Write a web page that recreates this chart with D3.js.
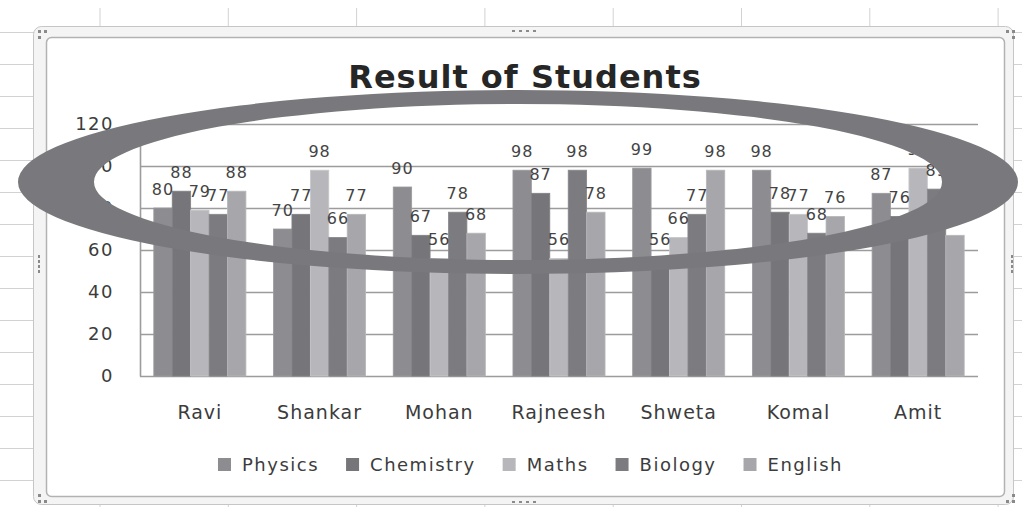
<!DOCTYPE html>
<html>
<head>
<meta charset="utf-8">
<title>Result of Students</title>
<script src="https://d3js.org/d3.v7.min.js"></script>
<style>
  body { margin: 0; background: #fff; font-family: "DejaVu Sans", sans-serif; }
  svg { display: block; }
  .y-axis .tick line { stroke: #9c9c9c; stroke-width: 1.6px; }
  .y-axis .domain { stroke: #9c9c9c; stroke-width: 1.6px; }
  .y-axis text { fill: #3c3c3c; font-size: 18px; letter-spacing: 1.5px; }
  .cat-label { fill: #3c3c3c; font-size: 19px; letter-spacing: 1px; }
  .bar-label { fill: #444; font-size: 16px; letter-spacing: 1px; }
  .legend text { fill: #3c3c3c; font-size: 18px; letter-spacing: 1.5px; }
</style>
</head>
<body>
<div id="chart"></div>
<script>
const students  = ["Ravi", "Shankar", "Mohan", "Rajneesh", "Shweta", "Komal", "Amit"];
const subjects  = ["Physics", "Chemistry", "Maths", "Biology", "English"];
const physics   = [80, 70, 90, 98, 99, 98, 87];
const chemistry = [88, 77, 67, 87, 56, 78, 76];
const maths     = [79, 98, 56, 56, 66, 77, 99];
const biology   = [77, 66, 78, 98, 77, 68, 89];
const english   = [88, 77, 68, 78, 98, 76, 67];
const yTicks    = [0, 20, 40, 60, 80, 100, 120];

const width = 1022, height = 507;
const colors = ["#8d8d91", "#76767a", "#b7b7bb", "#7c7c80", "#a7a7ab"];
const series = [physics, chemistry, maths, biology, english];

const svg = d3.select("#chart").append("svg")
  .attr("width", width)
  .attr("height", height);

// worksheet cells behind the chart object
const sheet = svg.append("g").attr("stroke", "#d2d2d2").attr("stroke-width", 1);
d3.range(32, height, 32).forEach(yy => {
  sheet.append("line").attr("x1", 0).attr("x2", width).attr("y1", yy + 0.5).attr("y2", yy + 0.5);
});
d3.range(0, 8).map(i => 100 + i * 128.3).forEach(xx => {
  sheet.append("line").attr("x1", xx).attr("x2", xx).attr("y1", 8).attr("y2", height);
});

// chart object frame (selected state)
svg.append("rect")
  .attr("x", 33.5).attr("y", 26.5).attr("width", 980).attr("height", 478)
  .attr("rx", 8).attr("fill", "#f4f4f4").attr("stroke", "#c6c6c6");
svg.append("rect")
  .attr("x", 46.5).attr("y", 37.5).attr("width", 958).attr("height", 459)
  .attr("rx", 5).attr("fill", "#fff").attr("stroke", "#b2b2b2").attr("stroke-width", 1.5);

const handles = svg.append("g").attr("fill", "#8a8a8a");
[[38, 30], [44, 30], [38, 36], [1006, 30], [1012, 30], [1012, 36],
 [38, 500], [44, 500], [38, 494], [1006, 500], [1012, 500], [1012, 494]]
  .forEach(([hx, hy]) => handles.append("rect").attr("x", hx).attr("y", hy).attr("width", 3).attr("height", 3));
[0, 1, 2, 3].forEach(i => {
  handles.append("rect").attr("x", 512 + i * 7).attr("y", 30).attr("width", 3).attr("height", 2);
  handles.append("rect").attr("x", 512 + i * 7).attr("y", 501).attr("width", 3).attr("height", 2);
  handles.append("rect").attr("x", 38).attr("y", 255 + i * 5).attr("width", 2).attr("height", 3);
  handles.append("rect").attr("x", 1011).attr("y", 255 + i * 5).attr("width", 2).attr("height", 3);
});

// plot area
const plot = { left: 140, right: 978, top: 124, bottom: 376 };

const x0 = d3.scaleBand()
  .domain(students)
  .range([plot.left, plot.right])
  .paddingInner(1.5 / 6.5)
  .paddingOuter(0.75 / 6.5);

const x1 = d3.scaleBand()
  .domain(subjects)
  .range([0, x0.bandwidth()]);

const y = d3.scaleLinear()
  .domain([0, 120])
  .range([plot.bottom, plot.top]);

const yAxis = svg.append("g")
  .attr("class", "y-axis")
  .attr("transform", `translate(${plot.left},0)`)
  .call(d3.axisLeft(y)
    .tickValues(yTicks)
    .tickSize(-(plot.right - plot.left))
    .tickSizeOuter(0)
    .tickPadding(26));
yAxis.selectAll("text").attr("font-family", "DejaVu Sans");

// bars
const groups = svg.append("g")
  .selectAll("g")
  .data(students)
  .join("g")
    .attr("transform", d => `translate(${x0(d)},0)`);

groups.selectAll("rect")
  .data((d, i) => subjects.map((s, k) => ({ subject: s, value: series[k][i], k })))
  .join("rect")
    .attr("x", d => x1(d.subject))
    .attr("y", d => y(d.value))
    .attr("width", x1.bandwidth())
    .attr("height", d => y(0) - y(d.value))
    .attr("fill", d => colors[d.k])
    .attr("stroke", d => d3.color(colors[d.k]).brighter(0.25))
    .attr("stroke-width", 0.8);

groups.selectAll("text")
  .data((d, i) => subjects.map((s, k) => ({ subject: s, value: series[k][i] })))
  .join("text")
    .attr("class", "bar-label")
    .attr("x", d => x1(d.subject) + x1.bandwidth() / 2)
    .attr("y", d => y(d.value) - 13)
    .attr("text-anchor", "middle")
    .text(d => d.value);

// category labels
svg.append("g")
  .selectAll("text")
  .data(students)
  .join("text")
    .attr("class", "cat-label")
    .attr("x", d => x0(d) + x0.bandwidth() / 2)
    .attr("y", 419)
    .attr("text-anchor", "middle")
    .text(d => d);

// title
svg.append("text")
  .attr("x", 525)
  .attr("y", 88)
  .attr("text-anchor", "middle")
  .attr("font-size", 32)
  .attr("font-weight", "bold")
  .attr("letter-spacing", 1)
  .attr("fill", "#262626")
  .text("Result of Students");

// legend, laid out from measured text widths and centred
const legend = svg.append("g").attr("class", "legend");
let lx = 0;
subjects.forEach((s, k) => {
  const item = legend.append("g").attr("transform", `translate(${lx},0)`);
  item.append("rect").attr("x", 0).attr("y", 458).attr("width", 13).attr("height", 13).attr("fill", colors[k]);
  const t = item.append("text").attr("x", 24).attr("y", 471).text(s);
  lx += 24 + t.node().getComputedTextLength() + 27;
});
legend.attr("transform", `translate(${(218 + 843 - (lx - 27)) / 2},0)`);

// hand-drawn ellipse marking on top of the chart
const ring = { cx: 518, cy: 182, rxo: 500, ryo: 92, rxi: 424, ryi: 78 };
const ellipsePath = (cx, cy, rx, ry) =>
  `M${cx - rx},${cy}a${rx},${ry} 0 1,0 ${2 * rx},0a${rx},${ry} 0 1,0 ${-2 * rx},0Z`;
svg.append("path")
  .attr("d", ellipsePath(ring.cx, ring.cy, ring.rxo, ring.ryo) + ellipsePath(ring.cx, ring.cy, ring.rxi, ring.ryi))
  .attr("fill-rule", "evenodd")
  .attr("fill", "#79797d");
</script>
</body>
</html>
